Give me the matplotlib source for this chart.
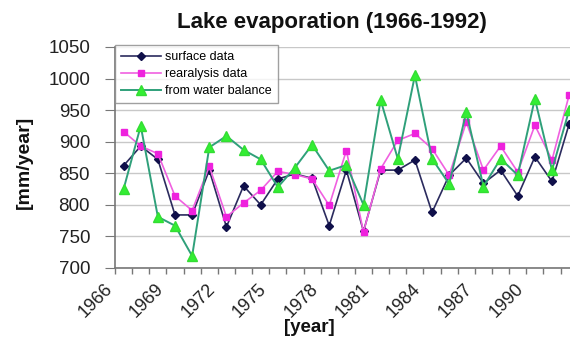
import matplotlib
matplotlib.use("Agg")
import matplotlib.pyplot as plt
import matplotlib.transforms as mtransforms
from matplotlib.ticker import MultipleLocator, FixedLocator

plt.rcParams['font.family'] = ['Liberation Sans', 'DejaVu Sans']

years = list(range(1966, 1993))
surface = [862, 893, 872, 784, 784, 855, 765, 830, 800, 841, 849, 842, 767, 855,
           758, 855, 855, 871, 788, 847, 874, 834, 855, 814, 876, 837, 928]
reanalysis = [916, 893, 881, 814, 791, 861, 781, 803, 823, 853, 848, 841, 799, 886,
              757, 857, 902, 913, 889, 847, 931, 855, 893, 852, 926, 871, 974]
water_balance = [825, 925, 781, 767, 719, 891, 909, 887, 872, 828, 859, 895, 854, 863,
                 800, 966, 873, 1005, 873, 833, 947, 829, 873, 847, 968, 855, 950]
tick_years = list(range(1966, 1993, 3))

fig = plt.figure(figsize=(5.70, 3.44), dpi=100)
ax = fig.add_axes([0.2018, 0.221, 0.7982, 0.6424])

ax.plot(years, surface, color='#2b2b5e', lw=1.2, marker='D', ms=4.5,
        mfc='#10104a', mec='#10104a', label='surface data')
ax.plot(years, reanalysis, color='#f060e0', lw=1.2, marker='s', ms=5,
        mfc='#ee22dd', mec='#ee22dd', label='rearalysis data')
ax.plot(years, water_balance, color='#2fa07a', lw=1.4, marker='^', ms=7,
        mfc='#33ee33', mec='#33dd33', label='from water balance')

ax.set_ylim(700, 1050)
ax.set_xlim(1965.5, 1992.05)
ax.yaxis.set_major_locator(MultipleLocator(50))
ax.grid(axis='y', color='#c8c8c8', lw=1)
ax.set_axisbelow(True)

ax.xaxis.set_major_locator(FixedLocator(tick_years))
ax.xaxis.set_minor_locator(FixedLocator([y - 0.5 for y in years]))
ax.tick_params(axis='x', which='major', length=0, labelsize=13, pad=9,
               labelcolor='#222222')
ax.tick_params(axis='x', which='minor', length=4, color='#777777', width=1)
ax.set_xticklabels([str(y) for y in tick_years], rotation=45, ha='right',
                   rotation_mode='anchor')
shift = mtransforms.ScaledTranslation(-20 / 100, 0, fig.dpi_scale_trans)
for lbl in ax.get_xticklabels():
    lbl.set_transform(lbl.get_transform() + shift)
ax.tick_params(axis='y', length=7, color='#777777', labelsize=13.5,
               labelcolor='#222222', pad=11)

for side in ('top', 'right'):
    ax.spines[side].set_visible(False)
for side in ('left', 'bottom'):
    ax.spines[side].set_color('#777777')
    ax.spines[side].set_linewidth(1.2)

leg = ax.legend(loc='upper left', bbox_to_anchor=(0.0, 1.01), borderaxespad=0,
                fontsize=9, frameon=True, fancybox=False, handlelength=3.2,
                labelspacing=0.4, handletextpad=0.3, borderpad=0.5)
leg.get_frame().set_edgecolor('#888888')
leg.get_frame().set_linewidth(1)

fig.text(0.583, 0.936, 'Lake evaporation (1966-1992)', ha='center', va='center',
         fontsize=16, fontweight='bold', color='#111111')
fig.text(0.042, 0.529, '[mm/year]', ha='center', va='center', rotation=90,
         fontsize=14, fontweight='bold', color='#111111')
fig.text(0.542, 0.047, '[year]', ha='center', va='center',
         fontsize=13.5, fontweight='bold', color='#111111')

fig.savefig('out.png', dpi=100)
